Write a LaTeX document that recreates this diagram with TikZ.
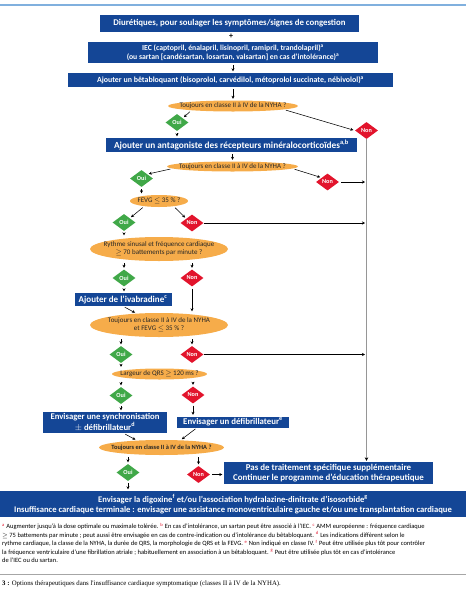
\documentclass[tikz,border=0pt]{standalone}
\usepackage{fontspec}
\setmainfont{Carlito}
\newfontfamily\capfont{Liberation Serif}
\usetikzlibrary{shapes.geometric,arrows.meta}

\definecolor{boxblue}{RGB}{20,70,150}
\definecolor{askorange}{RGB}{246,172,74}
\definecolor{ouigreen}{RGB}{64,168,72}
\definecolor{nonred}{RGB}{226,20,44}
\definecolor{railgray}{RGB}{150,150,150}
\definecolor{topblue}{RGB}{128,176,222}

\newcommand{\fn}[1]{\textsuperscript{\textcolor{nonred}{#1}}}
\newcommand{\bxfont}[1]{\bfseries\fontsize{#1}{1.2\dimexpr#1pt\relax}\selectfont}

\begin{document}
\begin{tikzpicture}[x=1pt,y=-1pt,
    treat/.style={rectangle, fill=boxblue, text=white, inner sep=0pt, align=center,
      font=\bxfont{7.8}},
    ask/.style={ellipse, fill=askorange, text=black!85, inner xsep=-40pt, inner ysep=-20pt,
      align=center, font=\fontsize{7}{8.4}\selectfont},
    oui/.style={diamond, fill=ouigreen, text=white, inner sep=0pt,
      minimum width=23pt, minimum height=17pt, font=\bfseries\fontsize{6.2}{6.5}\selectfont},
    non/.style={oui, fill=nonred},
    flow/.style={line width=0.55pt, -{Stealth[length=3pt,width=3pt]},
      shorten <=2pt, shorten >=1.5pt},
    rail/.style={draw=railgray, line width=1.3pt,
      -{Stealth[length=3.5pt,width=3.5pt,color=black]}, shorten >=1pt}]

  % Frame: page size and top rule
  \useasboundingbox (0,0) rectangle (466,600);
  \fill[topblue] (0,4) rectangle (466,6);

  % Treatment steps at the top
  \node[treat, font=\bxfont{8.8}, minimum width=259pt, minimum height=17pt] (diur) at (229.5,23.5)
    {Diurétiques, pour soulager les symptômes/signes de congestion};
  \node[font=\bfseries\fontsize{8}{8}\selectfont, inner sep=0pt] (plus) at (231,36.5) {+};
  \node[treat, font=\bxfont{7.7}, minimum width=290pt, minimum height=21pt] (iec) at (233,52.5)
    {IEC (captopril, énalapril, lisinopril, ramipril, trandolapril)\textsuperscript{a}\\
     (ou sartan [candésartan, losartan, valsartan] en cas d'intolérance)\textsuperscript{a}};
  \node[treat, font=\bxfont{7.9}, minimum width=325pt, minimum height=14pt] (beta) at (230.5,80)
    {Ajouter un bêtabloquant (bisoprolol, carvédilol, métoprolol succinate, nébivolol)\textsuperscript{a}};

  % First check
  \node[ask, minimum width=130pt, minimum height=11pt] (nyha1) at (233,106)
    {Toujours en classe II à IV de la NYHA ?};
  \node[oui] (oui1) at (177,122.5) {Oui};
  \node[non] (non1) at (366.5,130.5) {Non};
  \node[treat, font=\bxfont{9.3}, minimum width=251pt, minimum height=14pt] (antag) at (231.5,145)
    {Ajouter un antagoniste des récepteurs minéralocorticoïdes\textsuperscript{a,b}};

  % Second check
  \node[ask, minimum width=131pt, minimum height=10pt] (nyha2) at (232.5,166.5)
    {Toujours en classe II à IV de la NYHA ?};
  \node[oui] (oui2) at (141.5,178.5) {Oui};
  \node[non] (non2) at (327.5,182) {Non};
  \node[ask, minimum width=58pt, minimum height=12pt] (fevg) at (159,201)
    {FEVG $\le$ 35 \% ?};
  \node[oui] (oui3) at (124,222.5) {Oui};
  \node[non] (non3) at (192,223) {Non};

  % Heart rate and ivabradine
  \node[ask, minimum width=138pt, minimum height=24pt] (rythme) at (159,249)
    {Rythme sinusal et fréquence cardiaque\\$\ge$ 70 battements par minute ?};
  \node[oui] (oui4) at (124,278) {Oui};
  \node[non] (non4) at (192,278) {Non};
  \node[treat, font=\bxfont{9}, minimum width=97pt, minimum height=13pt] (ivab) at (123,299.5)
    {Ajouter de l'ivabradine\textsuperscript{c}};
  \node[ask, minimum width=138pt, minimum height=24pt] (nyha3) at (159,325)
    {Toujours en classe II à IV de la NYHA\\et FEVG $\le$ 35 \% ?};
  \node[oui] (oui5) at (121,354.5) {Oui};
  \node[non] (non5) at (192,354.5) {Non};

  % QRS and devices
  \node[ask, minimum width=95pt, minimum height=11pt] (qrs) at (159.5,374)
    {Largeur de QRS $\ge$ 120 ms ?};
  \node[oui] (oui6) at (121,395.5) {Oui};
  \node[non] (non6) at (193,395) {Non};
  \node[treat, font=\bxfont{8.7}, minimum width=124pt, minimum height=21pt]
    (synchro) at (105,422.5) {Envisager une synchronisation\\$\pm$ défibrillateur\textsuperscript{d}};
  \node[treat, font=\bxfont{8.8}, minimum width=112pt, minimum height=11pt]
    (defib) at (233,422) {Envisager un défibrillateur\textsuperscript{e}};

  % Last check
  \node[ask, minimum width=125pt, minimum height=15pt, font=\bfseries\fontsize{6.4}{7}\selectfont]
    (nyha4) at (161.5,447.5) {Toujours en classe II à IV de la NYHA ?};
  \node[oui] (oui7) at (128,472.5) {Oui};
  \node[non] (non7) at (198.5,474.5) {Non};
  \node[treat, font=\bxfont{8.9}, minimum width=209pt, minimum height=22pt]
    (pas) at (328.5,473) {Pas de traitement spécifique supplémentaire\\
     Continuer le programme d'éducation thérapeutique};
  \node[treat, font=\bxfont{8.6}, minimum width=466pt, minimum height=26pt] (digox) at (233,504)
    {Envisager la digoxine\textsuperscript{f} et/ou l'association hydralazine-dinitrate d'isosorbide\textsuperscript{g}\\
     Insuffisance cardiaque terminale : envisager une assistance monoventriculaire gauche et/ou une transplantation cardiaque};

  % Arrows down the chart
  \draw[flow] (iec) -- (iec |- beta.north);
  \draw[flow] (nyha1 |- beta.south) -- (nyha1);
  \draw[flow] (nyha1.186) -- (oui1.north east);
  \draw[flow] (nyha1.356) -- (non1.west);
  \draw[flow] (oui1) -- (oui1 |- antag.north);
  \draw[flow] (nyha2 |- antag.south) -- (nyha2);
  \draw[flow] (nyha2.182) -- (oui2.north east);
  \draw[flow] (nyha2.358) -- (non2.north west);
  \draw[flow] (oui2) -- (oui2 |- fevg.north);
  \draw[flow] (fevg.200) -- (oui3.north east);
  \draw[flow] (fevg.340) -- (non3.north west);
  \draw[flow] (oui3) -- (oui3 |- rythme.north);
  \draw[flow] (oui4 |- rythme.south) -- (oui4);
  \draw[flow] (non4 |- rythme.south) -- (non4);
  \draw[flow] (oui4) -- (oui4 |- ivab.north);
  \draw[flow] (non4) -- (non4 |- nyha3.north);
  \draw[flow] (ivab.south) -- (nyha3.153);
  \draw[flow] (oui5 |- nyha3.south) -- (oui5);
  \draw[flow] (non5 |- nyha3.south) -- (non5);
  \draw[flow] (oui5) -- (oui5 |- qrs.north);
  \draw[flow] (oui6 |- qrs.south) -- (oui6);
  \draw[flow] (non6 |- qrs.south) -- (non6);
  \draw[flow] (oui6) -- (oui6 |- synchro.north);
  \draw[flow] (non6) -- (non6 |- defib.north);
  \draw[flow] (synchro.-30) -- (nyha4.164);
  \draw[flow] (defib.189) -- (nyha4.21);
  \draw[flow] (oui7 |- nyha4.south) -- (oui7);
  \draw[flow] (non7 |- nyha4.south) -- (non7);
  \draw[flow] (oui7) -- (oui7 |- digox.north);
  \draw[flow] (non7) -- (non7 -| pas.west);

  % Non branches to the grey rail
  \draw[rail] (non1) -- (non1 |- pas.north);
  \draw[flow] (non2) -- (non2 -| non1);
  \draw[flow, shorten <=0pt] (non3) -- (non3 -| non1);
  \draw[flow, shorten <=0pt] (non5) -- (non5 -| non1);

  % Footnotes and caption
  \node[anchor=north west, inner sep=0pt, align=left, font=\fontsize{6.5}{8.5}\selectfont]
    (notes) at (2,523)
    {\fn{a} Augmenter jusqu'à la dose optimale ou maximale tolérée. \fn{b} En cas d'intolérance, un sartan peut être associé à l'IEC. \fn{c} AMM européenne : fréquence cardiaque\\
     $\ge$ 75 battements par minute ; peut aussi être envisagée en cas de contre-indication ou d'intolérance du bêtabloquant. \fn{d} Les indications diffèrent selon le\\
     rythme cardiaque, la classe de la NYHA, la durée de QRS, la morphologie de QRS et la FEVG. \fn{e} Non indiqué en classe IV. \fn{f} Peut être utilisée plus tôt pour contrôler\\
     la fréquence ventriculaire d'une fibrillation atriale ; habituellement en association à un bêtabloquant. \fn{g} Peut être utilisée plus tôt en cas d'intolérance\\
     de l'IEC ou du sartan.};
  \draw[black!35, line width=0.5pt] (0,574) -- (466,574);
  \node[anchor=west, inner sep=0pt, font=\capfont\fontsize{6.8}{8}\selectfont] (caption) at (2,584)
    {\textbf{3 :} Options thérapeutiques dans l'insuffisance cardiaque symptomatique (classes II à IV de la NYHA).};

\end{tikzpicture}
\end{document}
